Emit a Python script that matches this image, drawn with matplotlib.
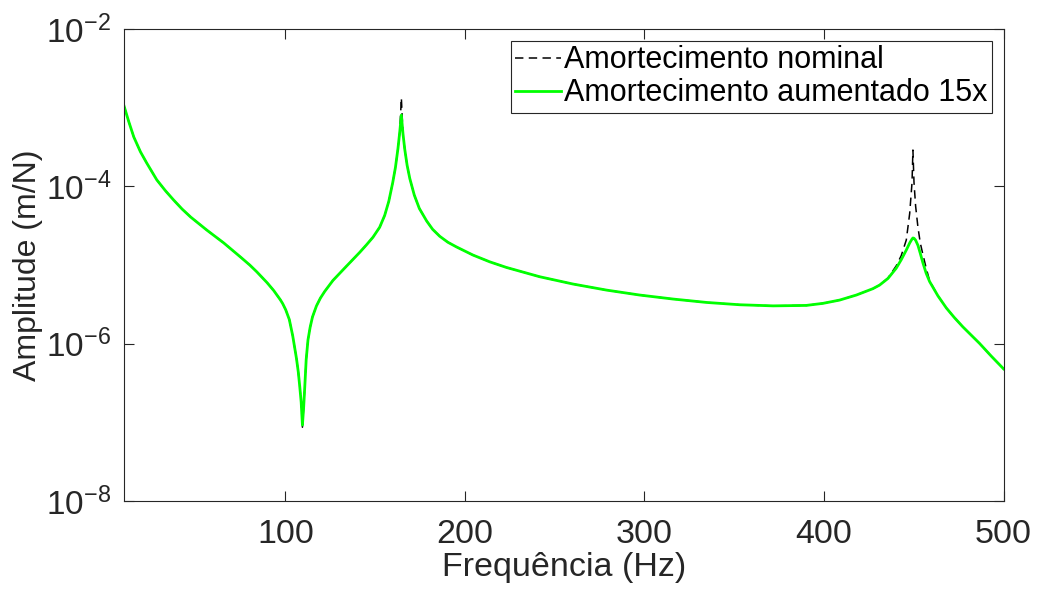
import matplotlib
matplotlib.use("Agg")
import matplotlib.pyplot as plt
from matplotlib.ticker import FixedLocator, NullLocator

plt.rcParams['font.family'] = ['Liberation Sans', 'DejaVu Sans']
plt.rcParams['mathtext.fontset'] = 'custom'
plt.rcParams['mathtext.rm'] = 'Liberation Sans'

# FRF samples (Hz, m/N)
freq = [10, 12.8, 15.6, 19.3, 22.8, 28.4, 33.2, 37.8, 42.5, 47.3, 56.2, 65.7,
        75.1, 80.2, 84.1, 89.8, 93.5, 97.2, 98.5, 100.2, 102.2, 104.1, 106.2,
        107.2, 108.0, 108.8, 109.5, 110.2, 110.8, 111.6, 112.6, 113.8, 115.1,
        117.3, 119.5, 121.9, 126.5, 134.0, 141.4, 145.1, 148.8, 152.5, 155.3,
        157.6, 159.8, 161.3, 162.7, 163.7, 164.6, 165.5, 166.5, 167.8, 169.3,
        171.8, 174.6, 178.7, 182.0, 186.0, 190.5, 195.3, 204.5, 213.8, 223.1,
        241.6, 260.2, 278.8, 297.3, 315.9, 334.5, 353.0, 371.6, 390.1, 399.4,
        408.7, 418.0, 427.2, 430.9, 435.6, 440.2, 443.0, 445.8, 447.7, 449.0,
        449.5, 450.1, 451.0, 452.3, 453.6, 455.1, 456.9, 458.8, 463.4, 468.1,
        472.5, 477.3, 486.6, 493.1, 500.0]

amp_nominal = [1.08e-3, 6.64e-4, 4.24e-4, 2.75e-4, 1.98e-4, 1.21e-4, 8.81e-5,
               6.70e-5, 5.15e-5, 4.07e-5, 2.79e-5, 1.91e-5, 1.26e-5, 1.00e-5,
               8.20e-6, 5.98e-6, 4.75e-6, 3.62e-6, 3.24e-6, 2.70e-6, 2.03e-6,
               1.26e-6, 6.46e-7, 4.37e-7, 2.88e-7, 1.82e-7, 8.71e-8, 1.58e-7,
               2.81e-7, 6.31e-7, 1.12e-6, 1.62e-6, 2.19e-6, 3.02e-6, 3.80e-6,
               4.62e-6, 6.38e-6, 9.66e-6, 1.45e-5, 1.80e-5, 2.26e-5, 3.02e-5,
               4.27e-5, 6.46e-5, 1.12e-4, 1.74e-4, 3.02e-4, 4.90e-4, 1.33e-3,
               4.68e-4, 2.95e-4, 1.86e-4, 1.26e-4, 7.76e-5, 5.25e-5, 3.63e-5,
               2.85e-5, 2.32e-5, 1.95e-5, 1.70e-5, 1.34e-5, 1.10e-5, 9.33e-6,
               7.11e-6, 5.74e-6, 4.81e-6, 4.16e-6, 3.70e-6, 3.35e-6, 3.13e-6,
               3.03e-6, 3.07e-6, 3.26e-6, 3.59e-6, 4.16e-6, 5.01e-6, 5.56e-6,
               6.84e-6, 9.77e-6, 1.32e-5, 2.08e-5, 4.54e-5, 1.12e-4, 2.90e-4,
               1.12e-4, 5.62e-5, 3.02e-5, 1.91e-5, 1.35e-5, 9.12e-6, 6.31e-6,
               4.07e-6, 2.85e-6, 2.16e-6, 1.64e-6, 1.01e-6, 6.97e-7, 4.79e-7]

amp_15x = [1.08e-3, 6.64e-4, 4.24e-4, 2.75e-4, 1.98e-4, 1.21e-4, 8.81e-5,
           6.70e-5, 5.15e-5, 4.07e-5, 2.79e-5, 1.91e-5, 1.26e-5, 1.00e-5,
           8.20e-6, 5.98e-6, 4.75e-6, 3.62e-6, 3.24e-6, 2.70e-6, 2.03e-6,
           1.26e-6, 6.46e-7, 4.37e-7, 2.88e-7, 1.82e-7, 9.25e-8, 1.58e-7,
           2.81e-7, 6.31e-7, 1.12e-6, 1.62e-6, 2.19e-6, 3.02e-6, 3.80e-6,
           4.62e-6, 6.38e-6, 9.66e-6, 1.45e-5, 1.80e-5, 2.26e-5, 3.02e-5,
           4.27e-5, 6.46e-5, 1.12e-4, 1.74e-4, 3.02e-4, 4.90e-4, 8.07e-4,
           4.68e-4, 2.95e-4, 1.86e-4, 1.26e-4, 7.76e-5, 5.25e-5, 3.63e-5,
           2.85e-5, 2.32e-5, 1.95e-5, 1.70e-5, 1.34e-5, 1.10e-5, 9.33e-6,
           7.11e-6, 5.74e-6, 4.81e-6, 4.16e-6, 3.70e-6, 3.35e-6, 3.13e-6,
           3.03e-6, 3.07e-6, 3.26e-6, 3.59e-6, 4.16e-6, 5.01e-6, 5.56e-6,
           6.76e-6, 9.12e-6, 1.17e-5, 1.55e-5, 1.91e-5, 2.14e-5, 2.21e-5,
           2.19e-5, 2.07e-5, 1.78e-5, 1.41e-5, 1.06e-5, 7.85e-6, 6.17e-6,
           4.07e-6, 2.85e-6, 2.16e-6, 1.64e-6, 1.01e-6, 6.97e-7, 4.79e-7]

labels = ['Amortecimento nominal', 'Amortecimento aumentado 15x']
x_ticks = [100, 200, 300, 400, 500]
y_ticks = [1e-8, 1e-6, 1e-4, 1e-2]

dark = '#262626'

fig = plt.figure(figsize=(10.4, 5.93), dpi=100)
ax = fig.add_axes([0.119, 0.155, 0.846, 0.796])

ax.semilogy(freq, amp_nominal, color='k', lw=1.1, dashes=(5.5, 3.5),
            label=labels[0])
ax.semilogy(freq, amp_15x, color='#00ff00', lw=2.0, label=labels[1])

ax.set_xlim(10, 500)
ax.set_ylim(1e-8, 1e-2)
ax.xaxis.set_major_locator(FixedLocator(x_ticks))
ax.yaxis.set_major_locator(FixedLocator(y_ticks))
ax.yaxis.set_minor_locator(NullLocator())

ax.tick_params(which='both', direction='in', top=True, right=True,
               length=7, width=0.8, colors=dark)
ax.tick_params(axis='x', labelsize=24.5, pad=13)
ax.tick_params(axis='y', labelsize=24, pad=9)
for s in ax.spines.values():
    s.set_color(dark)
    s.set_linewidth(0.8)

ax.set_xlabel('Frequência (Hz)', fontsize=24.5, color=dark, labelpad=1)
ax.set_ylabel('Amplitude (m/N)', fontsize=23, color=dark, labelpad=2)

leg = ax.legend(loc='upper right', fontsize=22, frameon=True, fancybox=False,
                handlelength=1.5, handletextpad=0.1, borderpad=0.15,
                labelspacing=0.1, borderaxespad=0.38)
leg.get_frame().set_edgecolor(dark)
leg.get_frame().set_linewidth(0.8)
leg.get_frame().set_alpha(1)

fig.savefig('out.png', dpi=100)
